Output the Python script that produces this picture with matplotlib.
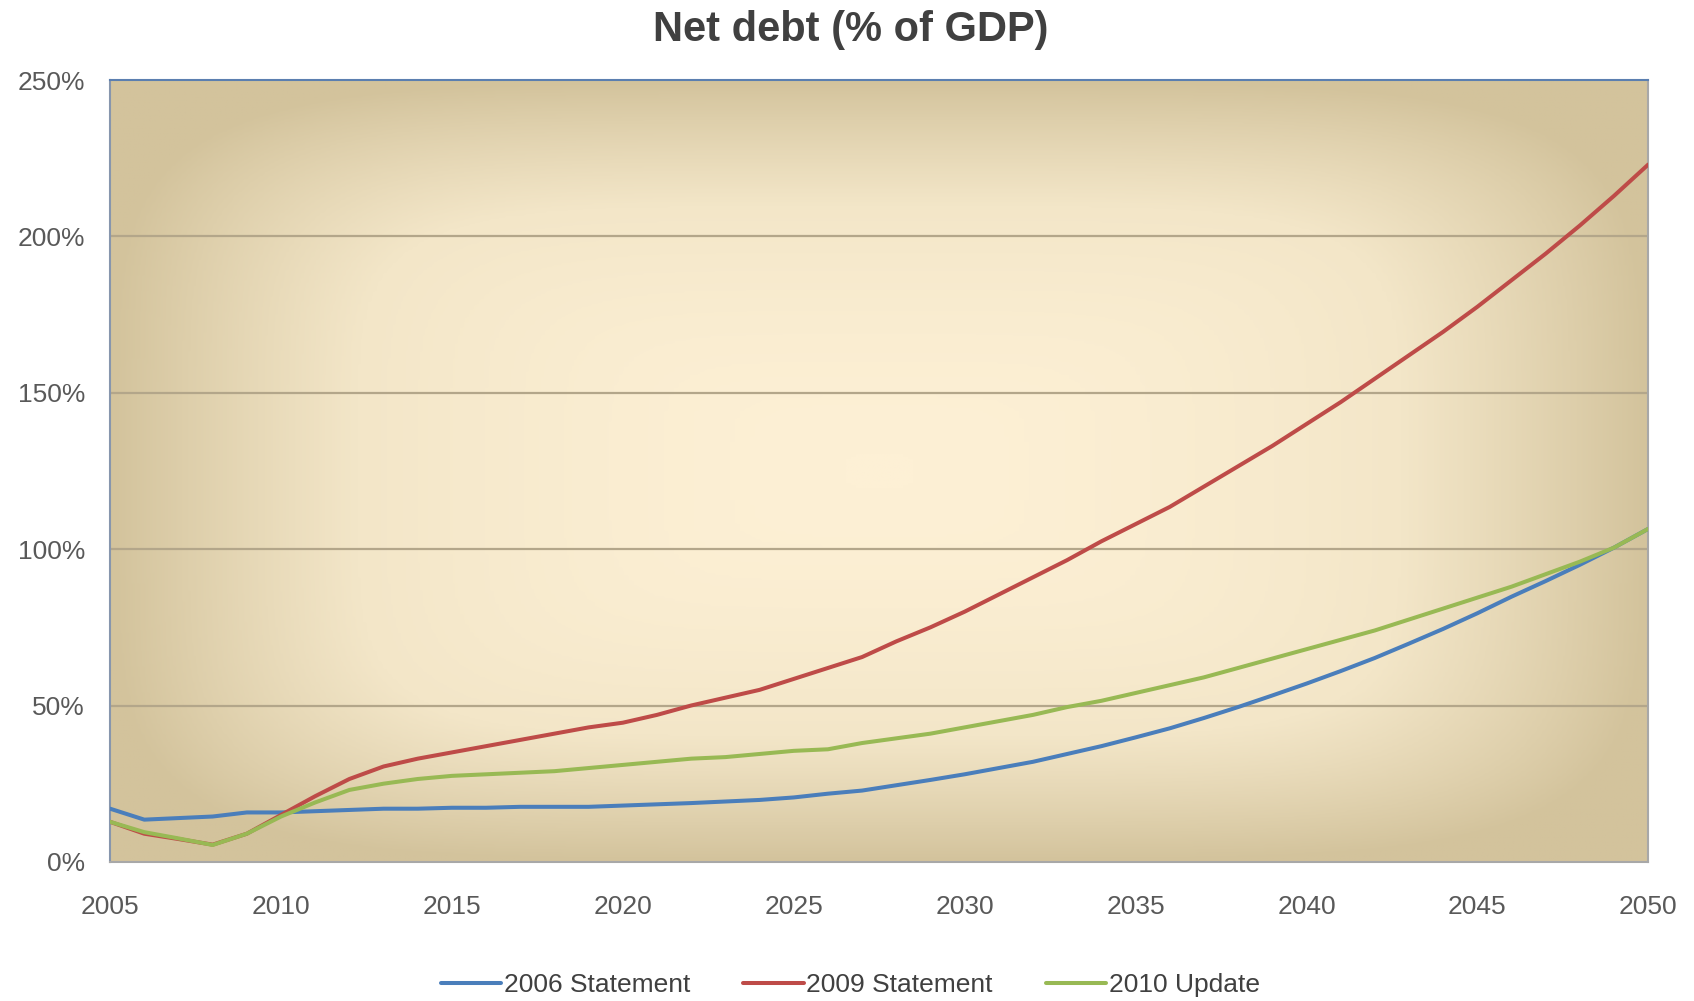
import numpy as np
import matplotlib
matplotlib.use("Agg")
import matplotlib.pyplot as plt
from matplotlib.colors import LinearSegmentedColormap

plt.rcParams["font.family"] = ["Liberation Sans", "DejaVu Sans"]

years = list(range(2005, 2051))

s2006 = [17.0, 13.5, 14.0, 14.5, 15.8, 15.8, 16.2, 16.6, 17.0, 17.0,
         17.3, 17.3, 17.6, 17.6, 17.6, 18.0, 18.4, 18.8, 19.3, 19.8,
         20.6, 21.8, 22.8, 24.5, 26.2, 28.0, 30.0, 32.0, 34.5, 37.0,
         39.8, 42.7, 46.0, 49.5, 53.2, 57.0, 61.0, 65.2, 69.8, 74.5,
         79.5, 84.8, 89.8, 95.0, 100.5, 106.5]

s2009 = [12.8, 9.0, 7.3, 5.5, 9.0, 15.0, 21.0, 26.5, 30.5, 33.0,
         35.0, 37.0, 39.0, 41.0, 43.0, 44.5, 47.0, 50.0, 52.5, 55.0,
         58.5, 62.0, 65.5, 70.5, 75.0, 80.0, 85.5, 91.0, 96.5, 102.5,
         108.0, 113.5, 120.0, 126.5, 133.0, 140.0, 147.0, 154.5, 162.0, 169.5,
         177.5, 186.0, 194.5, 203.5, 213.0, 223.0]

s2010 = [12.8, 9.5, 7.5, 5.4, 9.0, 14.5, 19.0, 23.0, 25.0, 26.5,
         27.5, 28.0, 28.5, 29.0, 30.0, 31.0, 32.0, 33.0, 33.5, 34.5,
         35.5, 36.0, 38.0, 39.5, 41.0, 43.0, 45.0, 47.0, 49.5, 51.5,
         54.0, 56.5, 59.0, 62.0, 65.0, 68.0, 71.0, 74.0, 77.5, 81.0,
         84.5, 88.0, 92.0, 96.0, 100.5, 106.5]

labels = ["2006 Statement", "2009 Statement", "2010 Update"]
colors = ["#4a7ebb", "#be4b48", "#98b954"]

fig = plt.figure(figsize=(16.94, 10.01), dpi=100)
ax = fig.add_axes([0.065, 0.139, 0.908, 0.781])

# background: rectangular gradient, light centre -> tan edges
n = 300
u = np.linspace(-1, 1, n)
U, V = np.meshgrid(u, u)
t = (np.abs(U) ** 5 + np.abs(V) ** 5) ** 0.2
t = np.clip(t, 0, 1) ** 1.8
cmap = LinearSegmentedColormap.from_list("bg", ["#fdf0d5", "#f3e6c8", "#d3c39c"])
ax.imshow(t, cmap=cmap, extent=[0, 1, 0, 1], transform=ax.transAxes,
          aspect="auto", zorder=0, vmin=0, vmax=1)

for yv in [50, 100, 150, 200]:
    ax.axhline(yv, color="#b3a68a", lw=1.6, zorder=1)

for s, lab, c in zip([s2006, s2009, s2010], labels, colors):
    ax.plot(years, s, color=c, lw=2.9, label=lab, zorder=3, solid_capstyle="round")

ax.set_xlim(2005, 2050)
ax.set_ylim(0, 250)
ax.set_xticks(range(2005, 2051, 5))
ax.set_yticks(range(0, 251, 50))
ax.set_yticklabels([f"{v}%" for v in range(0, 251, 50)])
ax.tick_params(axis="both", length=0, labelsize=19, colors="#595959")
ax.tick_params(axis="y", pad=18)
ax.tick_params(axis="x", pad=24)

ax.spines["top"].set_color("#5b7fb0")
ax.spines["top"].set_linewidth(1.5)
ax.spines["left"].set_color("#8796ad")
ax.spines["bottom"].set_color("#a8a8a8")
ax.spines["right"].set_color("#a8a8a8")
for sp in ["left", "bottom", "right"]:
    ax.spines[sp].set_linewidth(1.5)

fig.suptitle("Net debt (% of GDP)", x=0.502, y=0.97, fontsize=30,
             fontweight="bold", color="#404040", va="center")

fig.legend(loc="center", bbox_to_anchor=(0.502, 0.016), ncol=3, frameon=False,
           fontsize=19, handlelength=2.3, handletextpad=0.1, columnspacing=2.0,
           labelcolor="#404040")

fig.savefig("out.png", dpi=100)
